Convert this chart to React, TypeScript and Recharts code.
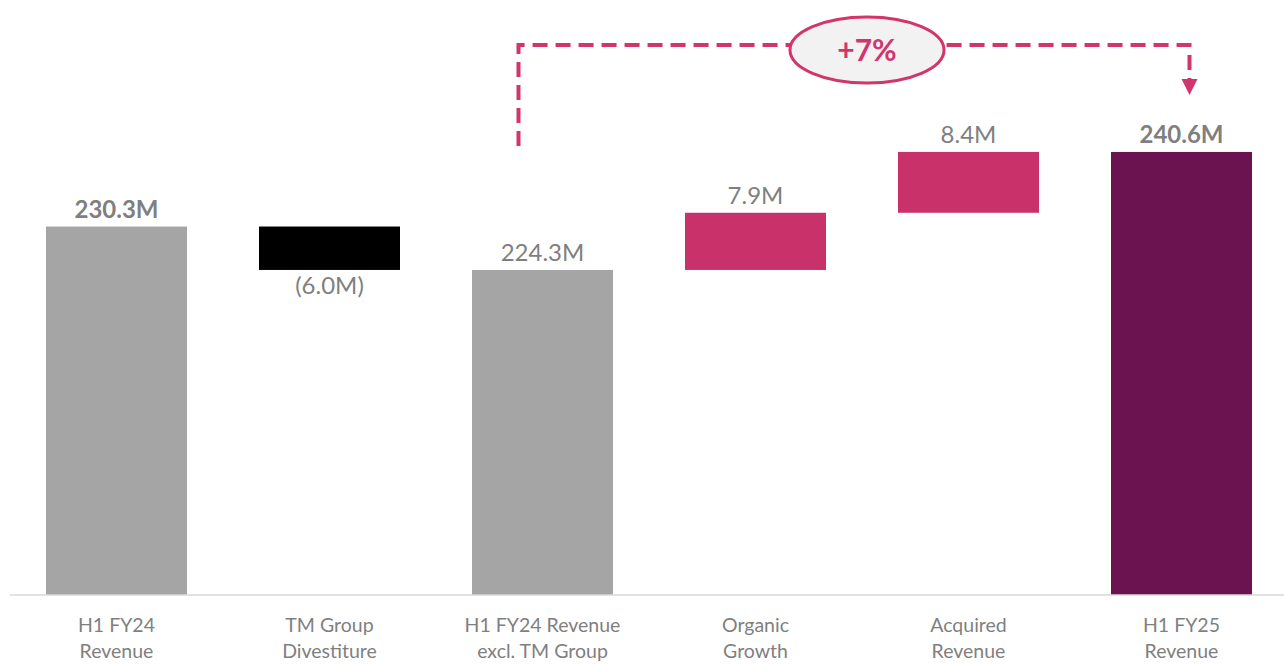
import React from 'react';
import { BarChart, Bar, XAxis, YAxis } from 'recharts';

const categoryLines = [
  ['H1 FY24', 'Revenue'],
  ['TM Group', 'Divestiture'],
  ['H1 FY24 Revenue', 'excl. TM Group'],
  ['Organic', 'Growth'],
  ['Acquired', 'Revenue'],
  ['H1 FY25', 'Revenue'],
];
const stepKinds = ['total', 'delta', 'total', 'delta', 'delta', 'total'];
const stepValues = [230.3, -6.0, 224.3, 7.9, 8.4, 240.6];
const valueLabels = ['230.3M', '(6.0M)', '224.3M', '7.9M', '8.4M', '240.6M'];
const barColors = ['#a5a5a5', '#000000', '#a5a5a5', '#c8316a', '#c8316a', '#6b1350'];
const boldLabels = [true, false, false, false, false, true];
const growthLabel = '+7%';

const Y_MIN = 179.4;
const Y_MAX = 260;
const W = 1290;
const H = 664;
const M = { top: 11.5, right: 2, left: 10, bottom: 0 };
const AXIS_H = 69;

const PINK = '#d2356c';
const TEXT = '#7f7f7f';
const FONT = 'Lato, "Open Sans", sans-serif';

// build floating ranges for the waterfall
let running = 0;
const data = categoryLines.map((lines, i) => {
  let low: number;
  let high: number;
  if (stepKinds[i] === 'total') {
    running = stepValues[i];
    low = Y_MIN;
    high = running;
  } else {
    const start = running;
    running = Math.round((running + stepValues[i]) * 10) / 10;
    low = Math.min(start, running);
    high = Math.max(start, running);
  }
  return {
    name: lines.join(' '),
    range: [low, high],
    label: valueLabels[i],
    color: barColors[i],
    bold: boldLabels[i],
    below: stepValues[i] < 0,
  };
});

// layout helpers for the overlay annotation
const plotW = W - M.left - M.right;
const band = plotW / categoryLines.length;
const plotBottom = H - M.bottom - AXIS_H;
const xCenter = (i: number) => M.left + band * (i + 0.5);
const yOf = (v: number) =>
  plotBottom - ((v - Y_MIN) / (Y_MAX - Y_MIN)) * (plotBottom - M.top);

const BarShape = (props: any) => {
  const { x, y, width, height, payload } = props;
  const ty = payload.below ? y + height + 24 : y - 9;
  return (
    <g>
      <rect x={x} y={y} width={width} height={height} fill={payload.color} />
      <text
        x={x + width / 2}
        y={ty}
        textAnchor="middle"
        fontFamily={FONT}
        fontSize={24}
        fontWeight={payload.bold ? 700 : 400}
        fill={TEXT}
      >
        {payload.label}
      </text>
    </g>
  );
};

const Tick = (props: any) => {
  const { x, y, payload } = props;
  const lines = categoryLines[payload.index] || [payload.value];
  return (
    <text x={x} y={y} textAnchor="middle" fontFamily={FONT} fontSize={19.5} fill={TEXT}>
      {lines.map((l, k) => (
        <tspan key={k} x={x} dy={k === 0 ? 37 : 26}>
          {l}
        </tspan>
      ))}
    </text>
  );
};

const Annotation = () => {
  const lx = xCenter(2) - 24;
  const rx = xCenter(5) + 8;
  const topY = 45;
  const startY = yOf(224.3) - 124;
  const cx = (xCenter(3) + xCenter(4)) / 2 + 5;
  return (
    <svg
      width={1284}
      height={H}
      style={{ position: 'absolute', left: 0, top: 0, pointerEvents: 'none' }}
    >
      <path
        d={`M${lx},${startY} L${lx},${topY} L${rx},${topY} L${rx},${topY + 36}`}
        fill="none"
        stroke={PINK}
        strokeWidth={4}
        strokeDasharray="15 8"
      />
      <polygon
        points={`${rx - 8},${topY + 34} ${rx + 8},${topY + 34} ${rx},${topY + 50}`}
        fill={PINK}
      />
      <ellipse cx={cx} cy={topY + 5} rx={77} ry={33} fill="#f2f2f2" stroke={PINK} strokeWidth={3} />
      <text
        x={cx}
        y={topY + 16}
        textAnchor="middle"
        fontFamily={FONT}
        fontSize={30}
        fontWeight={700}
        fill={PINK}
      >
        {growthLabel}
      </text>
    </svg>
  );
};

export default function App() {
  return (
    <div
      style={{
        position: 'absolute',
        left: 0,
        top: 0,
        width: 1284,
        height: H,
        overflow: 'hidden',
        background: '#fff',
      }}
    >
      <BarChart width={W} height={H} data={data} margin={M} barSize={141}>
        <XAxis
          dataKey="name"
          height={AXIS_H}
          interval={0}
          tickLine={false}
          tickSize={0}
          tickMargin={0}
          axisLine={{ stroke: '#d9d9d9', strokeWidth: 1.5 }}
          tick={<Tick />}
        />
        <YAxis hide domain={[Y_MIN, Y_MAX]} allowDataOverflow />
        <Bar dataKey="range" shape={<BarShape />} isAnimationActive={false} />
      </BarChart>
      <Annotation />
    </div>
  );
}
